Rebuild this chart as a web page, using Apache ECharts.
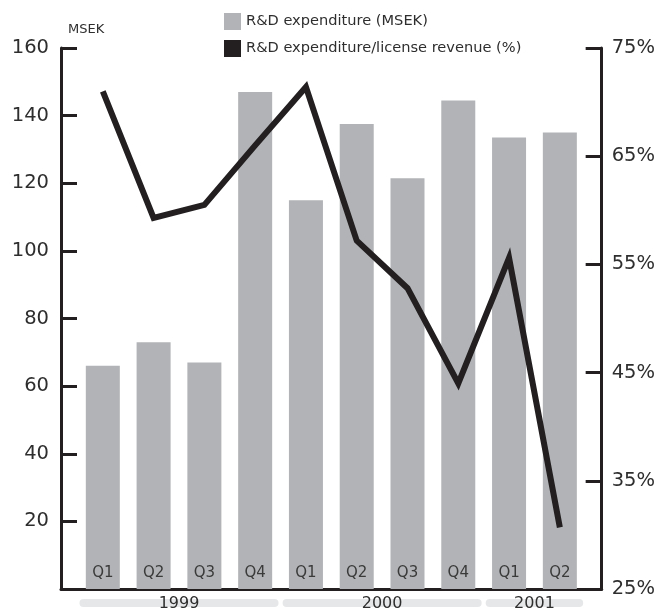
<!DOCTYPE html>
<html>
<head>
<meta charset="utf-8">
<script src="https://cdn.jsdelivr.net/npm/echarts@6/dist/echarts.min.js"></script>
<style>
  html, body { margin: 0; padding: 0; background: #ffffff; }
  #chart { width: 658px; height: 609px; }
</style>
</head>
<body>
<div id="chart"></div>
<script>
// Quarterly R&D figures, 1999 – Q2 2001
const quarters = ['Q1', 'Q2', 'Q3', 'Q4', 'Q1', 'Q2', 'Q3', 'Q4', 'Q1', 'Q2'];
const rdExpenditure = [66, 73, 67, 147, 115, 137.5, 121.5, 144.5, 133.5, 135];      // MSEK
const rdShareOfRevenue = [71.0, 59.3, 60.5, 66.0, 71.4, 57.2, 52.8, 44.0, 55.6, 30.7]; // %
const years = ['1999', '2000', '2001'];
const yearSpans = [[0, 3], [4, 7], [8, 9]]; // first/last quarter index of each year
const rightTickLabels = ['25%', '35%', '45%', '55%', '65%', '75%'];

const seriesNames = ['R&D expenditure (MSEK)', 'R&D expenditure/license revenue (%)'];

const FONT = '"DejaVu Sans", "Liberation Sans", sans-serif';
const INK = '#231f20';
const TEXT = '#2e2e2e';
const BAR = '#b1b3b6';
const BAND = '#e6e7e8';

const chart = echarts.init(document.getElementById('chart'), null, { renderer: 'canvas' });

const barData = rdExpenditure.map((v, i) => [i, v]);
const lineData = rdShareOfRevenue.map((v, i) => [i, v]);
const yearData = yearSpans.map(s => [s[0], s[1], 0]);

const axisLine = { show: true, onZero: false, lineStyle: { color: INK, width: 3 } };
const innerTick = { show: true, inside: true, length: 16, lineStyle: { color: INK, width: 3 } };

const option = {
  animation: false,
  textStyle: { fontFamily: FONT },
  title: {
    text: 'MSEK',
    left: 68, top: 23, padding: 0,
    textStyle: { fontFamily: FONT, fontSize: 13, fontWeight: 'normal', color: TEXT }
  },
  legend: {
    data: seriesNames,
    orient: 'vertical',
    left: 224, top: 13, padding: 0,
    itemWidth: 17, itemHeight: 17, itemGap: 10,
    icon: 'rect',
    textStyle: { fontFamily: FONT, fontSize: 14.6, color: TEXT }
  },
  grid: { left: 61, right: 54, top: 48, bottom: 20 },
  xAxis: {
    type: 'value',
    min: -0.8235, max: 9.8235,
    axisLine: axisLine,
    axisTick: { show: false },
    axisLabel: { show: false },
    splitLine: { show: false }
  },
  yAxis: [
    {
      type: 'value', position: 'left',
      min: 0, max: 160, interval: 20,
      axisLine: axisLine,
      axisTick: innerTick,
      axisLabel: { fontFamily: FONT, fontSize: 19.5, color: TEXT, margin: 12, showMinLabel: false },
      splitLine: { show: false }
    },
    {
      // tick scale for the percentage side: one step per 10 percentage points
      type: 'value', position: 'right',
      min: 0, max: 50, interval: 10,
      axisLine: axisLine,
      axisTick: innerTick,
      axisLabel: {
        fontFamily: FONT, fontSize: 19.5, color: TEXT, margin: 10,
        formatter: v => rightTickLabels[Math.round(v / 10)]
      },
      splitLine: { show: false }
    },
    {
      type: 'value', position: 'right',
      min: 25, max: 75,
      show: false
    }
  ],
  series: [
    {
      name: seriesNames[0],
      type: 'bar',
      yAxisIndex: 0,
      data: barData,
      barWidth: 34,
      itemStyle: { color: BAR },
      label: {
        show: true,
        position: 'insideBottom',
        distance: 8,
        formatter: p => quarters[p.dataIndex],
        fontFamily: FONT, fontSize: 15, color: '#3a3a3a'
      },
      z: 1
    },
    {
      name: seriesNames[1],
      type: 'line',
      yAxisIndex: 2,
      data: lineData,
      symbol: 'none',
      itemStyle: { color: INK },
      lineStyle: { color: INK, width: 6, cap: 'butt', join: 'miter' },
      z: 3
    },
    {
      name: 'years',
      type: 'custom',
      yAxisIndex: 0,
      clip: false,
      silent: true,
      data: yearData,
      encode: { x: [0, 1], y: 2 },
      renderItem: (params, api) => {
        const i = params.dataIndex;
        const a = api.coord([api.value(0) - 0.46, 0]);
        const b = api.coord([api.value(1) + 0.46, 0]);
        const y = a[1] + 14;
        return {
          type: 'group',
          children: [
            {
              type: 'rect',
              shape: { x: a[0], y: y - 4, width: b[0] - a[0], height: 8, r: 4 },
              style: { fill: BAND }
            },
            {
              type: 'text',
              style: {
                x: (a[0] + b[0]) / 2, y: y + 1,
                text: years[i],
                align: 'center', verticalAlign: 'middle',
                font: '16px ' + FONT,
                fill: TEXT
              }
            }
          ]
        };
      },
      z: 2
    }
  ]
};

chart.setOption(option);
</script>
</body>
</html>
